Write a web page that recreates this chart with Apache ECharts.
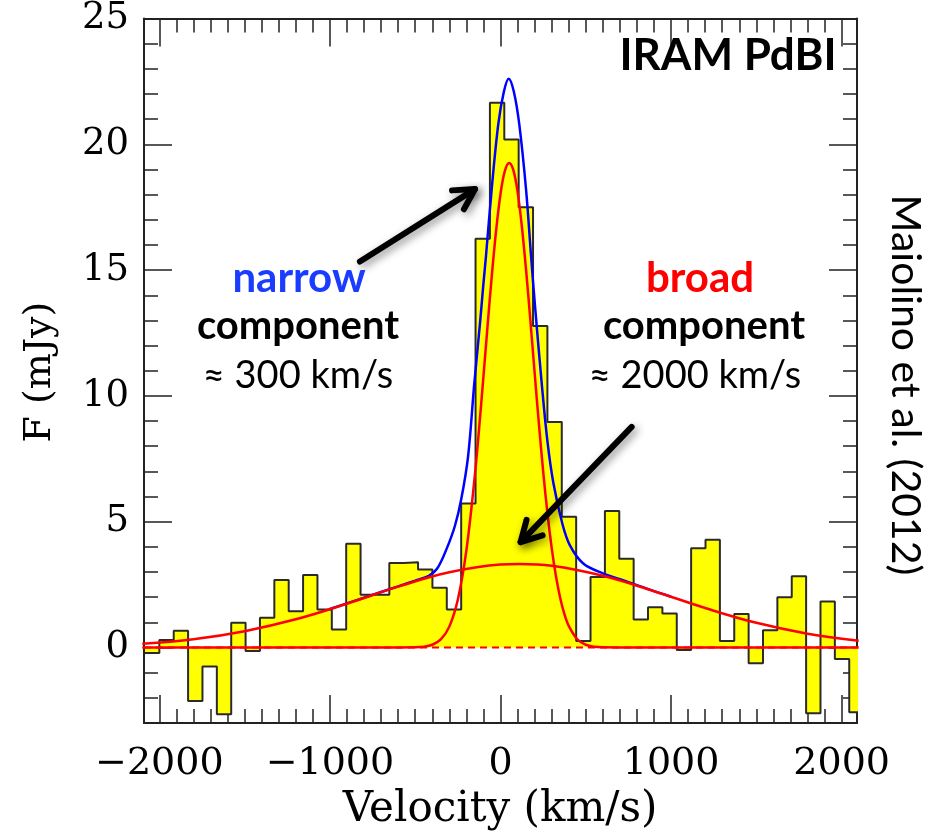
<!DOCTYPE html>
<html><head><meta charset="utf-8">
<script src="https://cdn.jsdelivr.net/npm/echarts@6/dist/echarts.min.js"></script>
<style>html,body{margin:0;padding:0;background:#fff}#c{width:942px;height:834px}</style>
</head><body><div id="c"></div>
<script>
// ---- data ----
const binCenters = [-2042.1,-1957.9,-1873.6,-1789.4,-1705.1,-1620.8,-1536.6,-1452.3,-1368.1,-1283.8,
  -1199.5,-1115.3,-1031.0,-946.8,-862.5,-778.2,-694.0,-609.7,-525.5,-441.2,
  -356.9,-272.7,-188.4,-104.2,-19.9,64.4,148.6,232.9,317.1,401.4,
  485.7,569.9,654.2,738.4,822.7,907.0,991.2,1075.5,1159.7,1244.0,
  1328.3,1412.5,1496.8,1581.0,1665.3,1749.6,1833.8,1918.1,2002.3,2086.6];
const binWidth = 84.26;
const flux = [-0.22,0.30,0.67,-2.13,-0.75,-2.65,0.98,-0.14,1.18,2.68,
  1.44,2.88,1.51,0.72,4.12,2.10,2.10,3.36,3.39,3.10,
  2.38,1.51,5.72,16.25,21.65,20.19,17.50,12.78,8.96,5.20,
  0.26,2.80,5.43,3.53,1.11,1.60,1.35,-0.10,3.95,4.28,
  0.26,1.33,-0.63,0.69,2.00,2.83,-2.61,1.83,-0.46,-2.57];
const broadCurve = [[-2100,0.15],[-1800,0.33],[-1500,0.65],[-1200,1.12],[-900,1.74],[-600,2.42],[-300,2.99],
  [0,3.30],[110,3.32],[300,3.25],[600,2.85],[900,2.24],[1200,1.57],[1500,0.98],[1800,0.55],[2100,0.27]];
const narrowCurve = [[-2100,0],[-1000,0],[-700,0],[-500,0.01],[-450,0.03],[-400,0.11],[-350,0.32],[-300,0.83],
  [-250,1.91],[-200,3.86],[-150,6.87],[-125,8.74],[-100,10.77],[-75,12.85],[-50,14.85],[-25,16.62],[0,18.02],
  [25,18.93],[51,19.26],[75,18.98],[100,18.12],[125,16.75],[150,15.0],[175,13.01],[200,10.93],[225,8.90],
  [250,7.01],[275,5.35],[300,3.96],[325,2.84],[350,1.97],[375,1.32],[400,0.86],[450,0.33],[500,0.11],
  [550,0.03],[600,0.01],[800,0],[1000,0],[2100,0]];
const totalCurve = [[-1000,1.53],[-800,1.98],[-600,2.43],[-500,2.66],[-420,2.85],[-370,3.15],[-316,3.92],
  [-267,4.84],[-230,5.9],[-190,7.6],[-154,10.47],[-120,12.9],[-101,14.39],[-85,15.57],[-52,18.19],
  [-13,20.8],[20,22.1],[48,22.61],[78,22.1],[110,20.8],[150,18.19],[179,15.57],[202,13.6],[242,10.47],
  [275,8.2],[310,6.54],[363,4.91],[407,4.06],[485,3.34],[603,2.94],[700,2.72],[850,2.36],[1000,2.02]];
const xMajorTicks = [-2000,-1000,0,1000,2000];
const yMajorTicks = [0,5,10,15,20,25];
const xRange = [-2090, 2090];
const yRange = [-3, 25];
// annotation arrows in data units: [tail, tip]
const arrows = [ [[-824,15.34],[-149.5,18.22]], [[769,8.77],[118,4.19]] ];

// ---- build ----
const xMinor = []; for (let v = -2000; v <= 2000; v += 100) xMinor.push(v);
const yMinor = []; for (let v = -3; v <= 25; v += 1) yMinor.push(v);

const histData = binCenters.map((c,i)=>[c - binWidth/2, flux[i]]);
histData.push([binCenters[binCenters.length-1] + binWidth/2, flux[flux.length-1]]);

const frameColor = '#222';
const serif = '"DejaVu Serif", "Liberation Serif", serif';
const sans = 'Lato, "Open Sans", "Liberation Sans", sans-serif';

function mkX(pos, major, labels){
  return {type:'value', position:pos, min:xRange[0], max:xRange[1],
    axisLine:{show:major, onZero:false, lineStyle:{color:frameColor, width:2}},
    axisTick:{show:true, inside:true, length: major?28:14, customValues: major?xMajorTicks:xMinor,
      lineStyle:{color:frameColor, width:1.5}},
    axisLabel:{show:labels, customValues:xMajorTicks, margin:22, color:'#000',
      fontFamily:serif, fontSize:38, formatter:v=>String(v).replace('-', '\u2212')},
    splitLine:{show:false}};
}
function mkY(pos, major, labels){
  return {type:'value', position:pos, min:yRange[0], max:yRange[1],
    axisLine:{show:major, onZero:false, lineStyle:{color:frameColor, width:2}},
    axisTick:{show:true, inside:true, length: major?28:14, customValues: major?yMajorTicks:yMinor,
      lineStyle:{color:frameColor, width:1.5}},
    axisLabel:{show:labels, customValues:yMajorTicks, margin:15, color:'#000',
      fontFamily:serif, fontSize:37, padding:[6,0,0,0]},
    splitLine:{show:false}};
}

const chart = echarts.init(document.getElementById('c'), null, {renderer:'canvas'});
const option = {
  animation:false,
  backgroundColor:'#fff',
  grid:{left:144, top:10, right:85, bottom:111, containLabel:false},
  xAxis:[mkX('bottom',true,true), mkX('bottom',false,false), mkX('top',true,false), mkX('top',false,false)],
  yAxis:[mkY('left',true,true), mkY('left',false,false), mkY('right',true,false), mkY('right',false,false)],
  series:[
    {type:'line', data:histData, step:'end', symbol:'none', clip:true, z:2,
      lineStyle:{color:'#2a2a2a', width:2}, areaStyle:{color:'#ffff00', opacity:1, origin:0}},
    {type:'line', data:[[xRange[0],0],[xRange[1],0]], symbol:'none', z:3,
      lineStyle:{color:'#ff0000', width:2.2, type:[7,5]}},
    {type:'line', data:totalCurve, smooth:0.35, symbol:'none', z:4,
      lineStyle:{color:'#0000ff', width:2.5}},
    {type:'line', data:narrowCurve, smooth:0.35, symbol:'none', z:5,
      lineStyle:{color:'#ff0000', width:2.5}},
    {type:'line', data:broadCurve, smooth:0.4, symbol:'none', z:6,
      lineStyle:{color:'#ff0000', width:2.6}}
  ]
};
chart.setOption(option);

const graphics = [];
function txt(x,y,text,font,fill,rot){
  const g = {type:'text', x:x, y:y, z:100, style:{text:text, font:font, fill:fill, align:'center', verticalAlign:'middle'}};
  if (rot) g.rotation = rot;
  graphics.push(g);
}
txt(728, 56, 'IRAM PdBI', 'bold 44px '+sans, '#000');
txt(299, 278, 'narrow', 'bold 42px '+sans, '#1a3cff');
txt(298, 326, 'component', 'bold 40px '+sans, '#000');
txt(298, 376, '\u2248 300 km/s', '38px '+sans, '#000');
txt(700, 278, 'broad', 'bold 42px '+sans, '#ff0000');
txt(704, 326, 'component', 'bold 40px '+sans, '#000');
txt(695, 376, '\u2248 2000 km/s', '38px '+sans, '#000');
txt(905, 385, 'Maiolino et al. (2012)', '41px '+sans, '#000', -Math.PI/2);
txt(40, 372, 'F (mJy)', '38px '+serif, '#000', Math.PI/2);
txt(500, 810, 'Velocity (km/s)', '42px '+serif, '#000');

const arrowStyle = {stroke:'#000', fill:null, lineWidth:6, lineCap:'round', lineJoin:'round',
  shadowBlur:8, shadowColor:'rgba(0,0,0,0.45)', shadowOffsetX:3, shadowOffsetY:3};
arrows.forEach(a=>{
  const p0 = chart.convertToPixel({xAxisIndex:0, yAxisIndex:0}, a[0]);
  const p1 = chart.convertToPixel({xAxisIndex:0, yAxisIndex:0}, a[1]);
  const dx = p0[0]-p1[0], dy = p0[1]-p1[1], L = Math.hypot(dx,dy);
  const ux = dx/L, uy = dy/L, hl = 23, ang = 29*Math.PI/180;
  const h1 = [p1[0] + hl*(ux*Math.cos(ang) - uy*Math.sin(ang)), p1[1] + hl*(ux*Math.sin(ang) + uy*Math.cos(ang))];
  const h2 = [p1[0] + hl*(ux*Math.cos(-ang) - uy*Math.sin(-ang)), p1[1] + hl*(ux*Math.sin(-ang) + uy*Math.cos(-ang))];
  graphics.push({type:'polyline', z:90, shape:{points:[p0,p1]}, style:Object.assign({},arrowStyle)});
  graphics.push({type:'polyline', z:90, shape:{points:[h1,p1,h2]}, style:Object.assign({},arrowStyle)});
});
chart.setOption({graphic:graphics});
</script>
</body></html>
